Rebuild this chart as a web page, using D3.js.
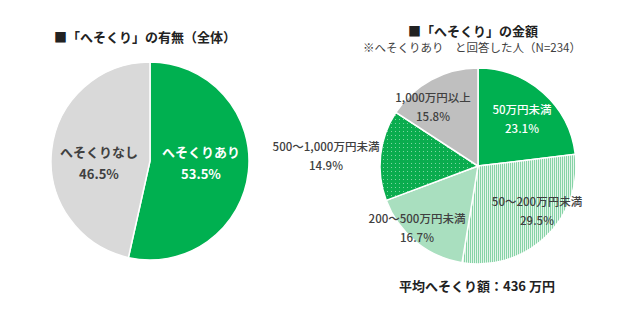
<!DOCTYPE html>
<html>
<head>
<meta charset="utf-8">
<script src="https://cdn.jsdelivr.net/npm/d3@7"></script>
<style>
  html, body { margin: 0; padding: 0; background: #fff; }
  svg { display: block; }
</style>
</head>
<body>
<div id="chart"></div>
<script>
// left pie: has hesokuri or not
const leftLabels = ["へそくりあり", "へそくりなし"];
const leftValues = [53.5, 46.5];

// right pie: amount of hesokuri
const rightLabels = ["50万円未満", "50～200万円未満", "200～500万円未満", "500～1,000万円未満", "1,000万円以上"];
const rightValues = [23.1, 29.5, 16.7, 14.9, 15.8];

const width = 640;
const height = 317;
const green = "#00b050";
const darkText = "#404040";
const fontStack = "'Noto Sans CJK JP', 'Noto Sans', sans-serif";

const svg = d3.select("#chart")
  .append("svg")
  .attr("width", width)
  .attr("height", height)
  .style("font-family", fontStack);

const defs = svg.append("defs");

// vertical stripes for 50~200
const stripes = defs.append("pattern")
  .attr("id", "stripes")
  .attr("patternUnits", "userSpaceOnUse")
  .attr("width", 2)
  .attr("height", 2);
stripes.append("rect").attr("width", 2).attr("height", 2).attr("fill", "#e4f5ea");
stripes.append("rect").attr("width", 1).attr("height", 2).attr("fill", "#86d3a6");

// dots for 500~1,000
const dots = defs.append("pattern")
  .attr("id", "dots")
  .attr("patternUnits", "userSpaceOnUse")
  .attr("width", 4)
  .attr("height", 4);
dots.append("rect").attr("width", 4).attr("height", 4).attr("fill", "#0aac4e");
dots.append("rect").attr("x", 1).attr("y", 1).attr("width", 1).attr("height", 1).attr("fill", "#7fd6a2");

const pie = d3.pie().sort(null).value(d => d);

function drawPie(cx, cy, r, values, fills) {
  const arc = d3.arc().innerRadius(0).outerRadius(r);
  const g = svg.append("g").attr("transform", `translate(${cx},${cy})`);
  g.selectAll("path")
    .data(pie(values))
    .join("path")
    .attr("d", arc)
    .attr("fill", (d, i) => fills[i])
    .attr("stroke", "#fff")
    .attr("stroke-width", 1.5);
  return g;
}

function twoLine(x, y, a, b, color, size, weight, gap) {
  const t = svg.append("text")
    .attr("text-anchor", "middle")
    .attr("font-size", size)
    .attr("font-weight", weight)
    .attr("fill", color);
  t.append("tspan").attr("x", x).attr("y", y).text(a);
  t.append("tspan").attr("x", x).attr("y", y + (gap || 19)).text(b);
}

// ---- left
svg.append("text")
  .attr("x", 145).attr("y", 42)
  .attr("text-anchor", "middle")
  .attr("font-size", 13).attr("font-weight", "bold")
  .attr("fill", "#222")
  .text("■「へそくり」の有無（全体）");

drawPie(150, 161, 99, leftValues, [green, "#d9d9d9"]);

twoLine(201, 157, leftLabels[0], leftValues[0].toFixed(1) + "%", "#fff", 13, "bold", 22);
twoLine(99, 157, leftLabels[1], leftValues[1].toFixed(1) + "%", darkText, 13, "bold", 22);

// ---- right
svg.append("text")
  .attr("x", 473).attr("y", 36)
  .attr("text-anchor", "middle")
  .attr("font-size", 13).attr("font-weight", "bold")
  .attr("fill", "#222")
  .text("■「へそくり」の金額");

svg.append("text")
  .attr("x", 472).attr("y", 52)
  .attr("text-anchor", "middle")
  .attr("font-size", 11.5)
  .attr("fill", darkText)
  .text("※へそくりあり　と回答した人（N=234）");

drawPie(478, 166, 98, rightValues, [green, "url(#stripes)", "#a9dfbf", "url(#dots)", "#bfbfbf"]);

const pct = v => v.toFixed(1) + "%";
twoLine(522, 114, rightLabels[0], pct(rightValues[0]), "#fff", 11.5, "500");
twoLine(537, 206, rightLabels[1], pct(rightValues[1]), darkText, 11.5, "500");
twoLine(417, 223, rightLabels[2], pct(rightValues[2]), darkText, 11.5, "500");
twoLine(326, 151, rightLabels[3], pct(rightValues[3]), darkText, 11.5, "500");
twoLine(433, 102, rightLabels[4], pct(rightValues[4]), darkText, 11.5, "500");

svg.append("text")
  .attr("x", 477).attr("y", 291)
  .attr("text-anchor", "middle")
  .attr("font-size", 13).attr("font-weight", "bold")
  .attr("fill", "#222")
  .text("平均へそくり額：436 万円");
</script>
</body>
</html>
